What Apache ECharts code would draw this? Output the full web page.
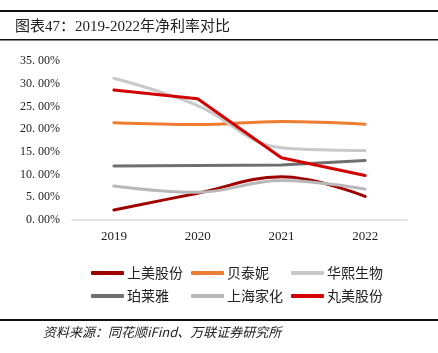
<!DOCTYPE html>
<html>
<head>
<meta charset="utf-8">
<script src="https://cdn.jsdelivr.net/npm/echarts@6/dist/echarts.min.js"></script>
<style>
html, body { margin: 0; padding: 0; background: #fff; }
#chart { width: 438px; height: 353px; }
</style>
</head>
<body>
<div id="chart"></div>
<script>
var years = ['2019', '2020', '2021', '2022'];
var names = ['上美股份', '贝泰妮', '华熙生物', '珀莱雅', '上海家化', '丸美股份'];
var colors = ['#9E0000', '#ED7D31', '#C9C9C9', '#6F6F6F', '#B8B8B8', '#D20000'];
// 净利率 (%)
var shangmei = [2.2, 5.9, 9.5, 5.2];
var beitaini = [21.4, 21.0, 21.7, 21.1];
var huaxi = [31.2, 25.2, 15.9, 15.3];
var proya = [11.9, 12.0, 12.1, 13.1];
var jahwa = [7.5, 6.1, 8.7, 6.8];
var marubi = [28.6, 26.7, 13.7, 9.8];
var values = [shangmei, beitaini, huaxi, proya, jahwa, marubi];
var smoothFlags = [0.4, 0.4, 0.4, false, 0.4, false];

var serif = '"Liberation Serif", "Noto Sans CJK SC", serif';
var cjk = '"Noto Sans CJK SC", sans-serif';

var myChart = echarts.init(document.getElementById('chart'));

var series = [];
for (var i = 0; i < names.length; i++) {
    series.push({
        name: names[i],
        type: 'line',
        data: values[i],
        smooth: smoothFlags[i],
        symbol: 'none',
        lineStyle: { color: colors[i], width: 3, cap: 'round' },
        itemStyle: { color: colors[i] }
    });
}

// legends placed in a 3 x 2 grid
var legendX = [86, 186, 286];
var legendY = [261, 284];
var legends = [];
for (var j = 0; j < names.length; j++) {
    legends.push({
        data: [names[j]],
        left: legendX[j % 3],
        top: legendY[Math.floor(j / 3)],
        icon: 'roundRect',
        itemWidth: 33,
        itemHeight: 4,
        itemGap: 3,
        textStyle: { fontFamily: cjk, fontSize: 14, color: '#222', padding: [0, 0, 0, -2] }
    });
}

var option = {
    backgroundColor: '#FFFFFF',
    animation: false,
    title: {
        text: '图表47：2019-2022年净利率对比',
        left: 10,
        top: 15,
        textStyle: { fontFamily: serif, fontSize: 15, fontWeight: 'normal', color: '#222' }
    },
    legend: legends,
    grid: { left: 72, right: 31, top: 61, bottom: 133 },
    xAxis: {
        type: 'category',
        data: years,
        boundaryGap: true,
        axisLine: { lineStyle: { color: '#D9D9D9', width: 1.5 } },
        axisTick: { show: false },
        axisLabel: { fontFamily: serif, fontSize: 13, color: '#222', margin: 10 }
    },
    yAxis: {
        type: 'value',
        min: 0,
        max: 35,
        interval: 5,
        axisLine: { show: false },
        axisTick: { show: false },
        splitLine: { show: false },
        axisLabel: {
            fontFamily: serif,
            fontSize: 12,
            color: '#222',
            margin: 12,
            formatter: function (v) {
                return v.toFixed(2).replace('.', '. ') + '%';
            }
        }
    },
    graphic: [
        { type: 'rect', shape: { x: 0, y: 10, width: 438, height: 2 }, style: { fill: '#111' } },
        { type: 'rect', shape: { x: 0, y: 39, width: 438, height: 1.5 }, style: { fill: '#111' } },
        { type: 'rect', shape: { x: 0, y: 319, width: 438, height: 2 }, style: { fill: '#111' } },
        {
            type: 'text',
            left: 43,
            top: 326,
            style: {
                text: '资料来源：同花顺iFind、万联证券研究所',
                font: 'italic 13px ' + cjk,
                fill: '#222'
            }
        }
    ],
    series: series
};

myChart.setOption(option);
</script>
</body>
</html>
